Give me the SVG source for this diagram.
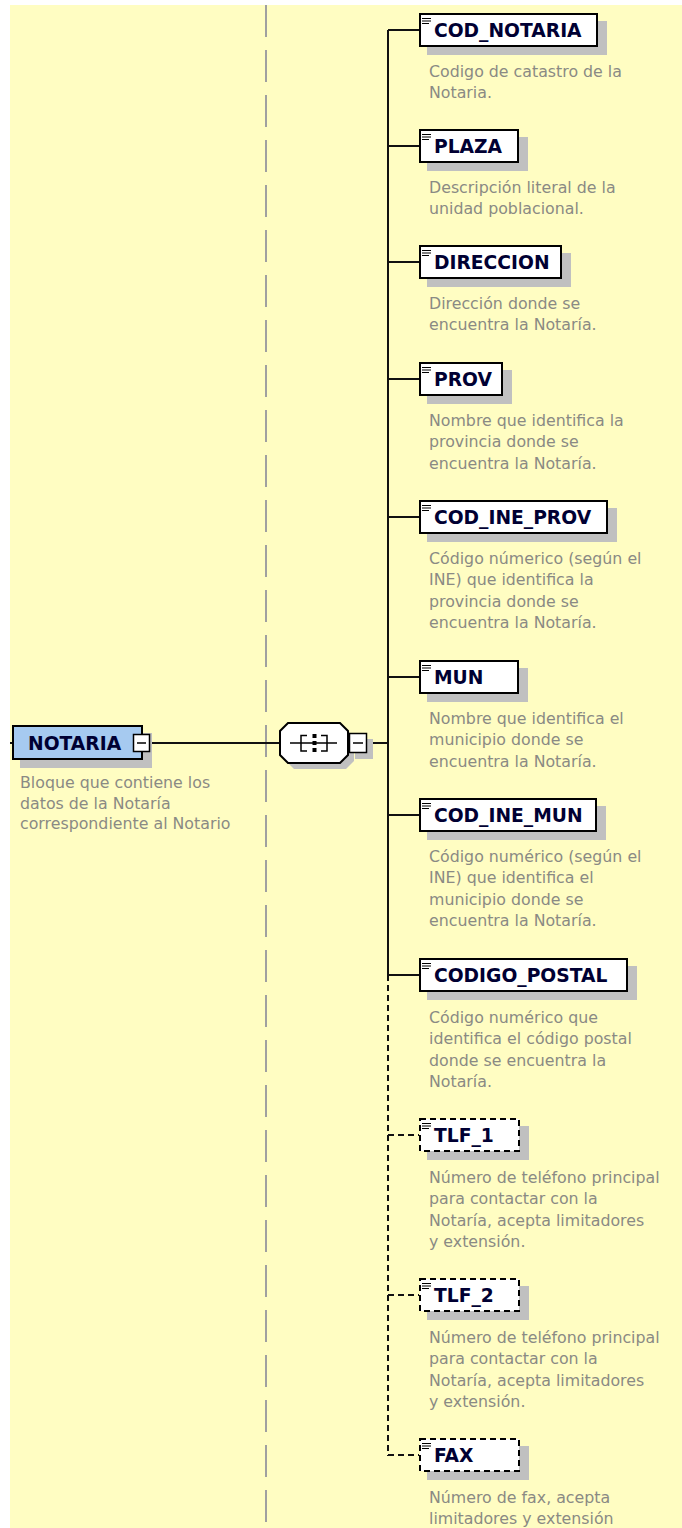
<svg xmlns="http://www.w3.org/2000/svg" width="682" height="1528" viewBox="0 0 682 1528">
<style>
.bg{fill:#FFFDC2}
.box{fill:#fff;stroke:#000;stroke-width:2}
.opt{stroke-dasharray:6 4}
.sh{fill:#C0C0C0}
.lbl{font-family:"DejaVu Sans",sans-serif;font-weight:bold;font-size:18.7px;fill:#000033}
.desc{font-family:"DejaVu Sans",sans-serif;font-size:15.8px;fill:#8a8a84}
.conn{stroke:#111;stroke-width:2;fill:none}
.dash{stroke-dasharray:6 4}
.ico{stroke:#000;stroke-width:1.2}
</style>
<rect x="0" y="0" width="682" height="1528" fill="#fff"/>
<rect class="bg" x="10" y="5" width="672" height="1523"/>
<line x1="266" y1="5" x2="266" y2="1528" stroke="#A0A0A0" stroke-width="2" stroke-dasharray="32 13"/>

<g id="connectors">
<line class="conn" x1="10" y1="743" x2="13" y2="743"/>
<line class="conn" x1="150" y1="743" x2="280" y2="743"/>
<line class="conn" x1="367" y1="743" x2="388" y2="743"/>
<path class="conn" d="M388,30 V975"/>
<path class="conn dash" d="M388,975 V1456"/>
<line class="conn" x1="388" y1="30" x2="419" y2="30"/>
<line class="conn" x1="388" y1="146" x2="419" y2="146"/>
<line class="conn" x1="388" y1="262" x2="419" y2="262"/>
<line class="conn" x1="388" y1="379" x2="419" y2="379"/>
<line class="conn" x1="388" y1="517" x2="419" y2="517"/>
<line class="conn" x1="388" y1="677" x2="419" y2="677"/>
<line class="conn" x1="388" y1="815" x2="419" y2="815"/>
<line class="conn" x1="388" y1="975" x2="419" y2="975"/>
<line class="conn dash" x1="388" y1="1135" x2="419" y2="1135"/>
<line class="conn dash" x1="388" y1="1295" x2="419" y2="1295"/>
<line class="conn dash" x1="388" y1="1455" x2="419" y2="1455"/>
</g>

<g id="NOTARIA">
<rect class="sh" x="20" y="733" width="132" height="35"/>
<rect x="13" y="726" width="129" height="33" fill="#A6CAF0" stroke="#000" stroke-width="2"/>
<text class="lbl" x="28" y="750">NOTARIA</text>
<rect x="133.5" y="734.5" width="16" height="17" fill="#fff" stroke="#000" stroke-width="1.5"/>
<line x1="137" y1="743" x2="146" y2="743" stroke="#000" stroke-width="1.5"/>
<text class="desc" x="20" y="788">Bloque que contiene los</text>
<text class="desc" x="20" y="808.5">datos de la Notaría</text>
<text class="desc" x="20" y="829">correspondiente al Notario</text>
</g>

<g id="sequence">
<polygon class="sh" points="294,729 346,729 354,737 354,761 346,769 294,769 286,761 286,737"/>
<rect class="sh" x="355" y="739" width="18" height="20"/>
<polygon points="288,723 340,723 348,731 348,755 340,763 288,763 280,755 280,731" fill="#fff" stroke="#000" stroke-width="2"/>
<line x1="290" y1="743" x2="337" y2="743" stroke="#000" stroke-width="1.5"/>
<path d="M307,735.5 H301 V751 H307" fill="none" stroke="#000" stroke-width="1.5"/>
<path d="M321,735.5 H327 V751 H321" fill="none" stroke="#000" stroke-width="1.5"/>
<rect x="312.5" y="734" width="4" height="4" fill="#000"/>
<rect x="312.5" y="741" width="4" height="4" fill="#000"/>
<rect x="312.5" y="748" width="4" height="4" fill="#000"/>
<rect x="349.5" y="733.5" width="17" height="19" fill="#fff" stroke="#000" stroke-width="1.5"/>
<line x1="353" y1="743" x2="363" y2="743" stroke="#000" stroke-width="1.5"/>
</g>

<g id="COD_NOTARIA">
<rect class="sh" x="427" y="21" width="180" height="34"/>
<rect class="box" x="420" y="14" width="177" height="32"/>
<path class="ico" d="M422,18.5h9M422,21h9M422,23.5h7"/>
<text class="lbl" x="434" y="37">COD_NOTARIA</text>
<text class="desc" x="429" y="77">Codigo de catastro de la</text>
<text class="desc" x="429" y="98.4">Notaria.</text>
</g>

<g id="PLAZA">
<rect class="sh" x="427" y="137" width="101" height="34"/>
<rect class="box" x="420" y="130" width="98" height="32"/>
<path class="ico" d="M422,134.5h9M422,137h9M422,139.5h7"/>
<text class="lbl" x="434" y="153">PLAZA</text>
<text class="desc" x="429" y="193">Descripción literal de la</text>
<text class="desc" x="429" y="214.4">unidad poblacional.</text>
</g>

<g id="DIRECCION">
<rect class="sh" x="427" y="253" width="144" height="34"/>
<rect class="box" x="420" y="246" width="141" height="32"/>
<path class="ico" d="M422,250.5h9M422,253h9M422,255.5h7"/>
<text class="lbl" x="434" y="269">DIRECCION</text>
<text class="desc" x="429" y="309">Dirección donde se</text>
<text class="desc" x="429" y="330.4">encuentra la Notaría.</text>
</g>

<g id="PROV">
<rect class="sh" x="427" y="370" width="85" height="34"/>
<rect class="box" x="420" y="363" width="82" height="32"/>
<path class="ico" d="M422,367.5h9M422,370h9M422,372.5h7"/>
<text class="lbl" x="434" y="386">PROV</text>
<text class="desc" x="429" y="426">Nombre que identifica la</text>
<text class="desc" x="429" y="447.4">provincia donde se</text>
<text class="desc" x="429" y="468.8">encuentra la Notaría.</text>
</g>

<g id="COD_INE_PROV">
<rect class="sh" x="427" y="508" width="190" height="34"/>
<rect class="box" x="420" y="501" width="187" height="32"/>
<path class="ico" d="M422,505.5h9M422,508h9M422,510.5h7"/>
<text class="lbl" x="434" y="524">COD_INE_PROV</text>
<text class="desc" x="429" y="564">Código númerico (según el</text>
<text class="desc" x="429" y="585.4">INE) que identifica la</text>
<text class="desc" x="429" y="606.8">provincia donde se</text>
<text class="desc" x="429" y="628.2">encuentra la Notaría.</text>
</g>

<g id="MUN">
<rect class="sh" x="427" y="668" width="101" height="34"/>
<rect class="box" x="420" y="661" width="98" height="32"/>
<path class="ico" d="M422,665.5h9M422,668h9M422,670.5h7"/>
<text class="lbl" x="434" y="684">MUN</text>
<text class="desc" x="429" y="724">Nombre que identifica el</text>
<text class="desc" x="429" y="745.4">municipio donde se</text>
<text class="desc" x="429" y="766.8">encuentra la Notaría.</text>
</g>

<g id="COD_INE_MUN">
<rect class="sh" x="427" y="806" width="179" height="34"/>
<rect class="box" x="420" y="799" width="176" height="32"/>
<path class="ico" d="M422,803.5h9M422,806h9M422,808.5h7"/>
<text class="lbl" x="434" y="822">COD_INE_MUN</text>
<text class="desc" x="429" y="862">Código numérico (según el</text>
<text class="desc" x="429" y="883.4">INE) que identifica el</text>
<text class="desc" x="429" y="904.8">municipio donde se</text>
<text class="desc" x="429" y="926.2">encuentra la Notaría.</text>
</g>

<g id="CODIGO_POSTAL">
<rect class="sh" x="427" y="966" width="210" height="34"/>
<rect class="box" x="420" y="959" width="207" height="32"/>
<path class="ico" d="M422,963.5h9M422,966h9M422,968.5h7"/>
<text class="lbl" x="434" y="982">CODIGO_POSTAL</text>
<text class="desc" x="429" y="1023">Código numérico que</text>
<text class="desc" x="429" y="1044.4">identifica el código postal</text>
<text class="desc" x="429" y="1065.8">donde se encuentra la</text>
<text class="desc" x="429" y="1087.2">Notaría.</text>
</g>

<g id="TLF_1">
<rect class="sh" x="427" y="1126" width="102" height="34"/>
<rect class="box opt" x="420" y="1119" width="99" height="32"/>
<path class="ico" d="M422,1123.5h9M422,1126h9M422,1128.5h7"/>
<text class="lbl" x="434" y="1142">TLF_1</text>
<text class="desc" x="429" y="1183">Número de teléfono principal</text>
<text class="desc" x="429" y="1204.4">para contactar con la</text>
<text class="desc" x="429" y="1225.8">Notaría, acepta limitadores</text>
<text class="desc" x="429" y="1247.2">y extensión.</text>
</g>

<g id="TLF_2">
<rect class="sh" x="427" y="1286" width="102" height="34"/>
<rect class="box opt" x="420" y="1279" width="99" height="32"/>
<path class="ico" d="M422,1283.5h9M422,1286h9M422,1288.5h7"/>
<text class="lbl" x="434" y="1302">TLF_2</text>
<text class="desc" x="429" y="1343">Número de teléfono principal</text>
<text class="desc" x="429" y="1364.4">para contactar con la</text>
<text class="desc" x="429" y="1385.8">Notaría, acepta limitadores</text>
<text class="desc" x="429" y="1407.2">y extensión.</text>
</g>

<g id="FAX">
<rect class="sh" x="427" y="1446" width="102" height="34"/>
<rect class="box opt" x="420" y="1439" width="99" height="32"/>
<path class="ico" d="M422,1443.5h9M422,1446h9M422,1448.5h7"/>
<text class="lbl" x="434" y="1462">FAX</text>
<text class="desc" x="429" y="1503">Número de fax, acepta</text>
<text class="desc" x="429" y="1524.4">limitadores y extensión</text>
</g>
</svg>
